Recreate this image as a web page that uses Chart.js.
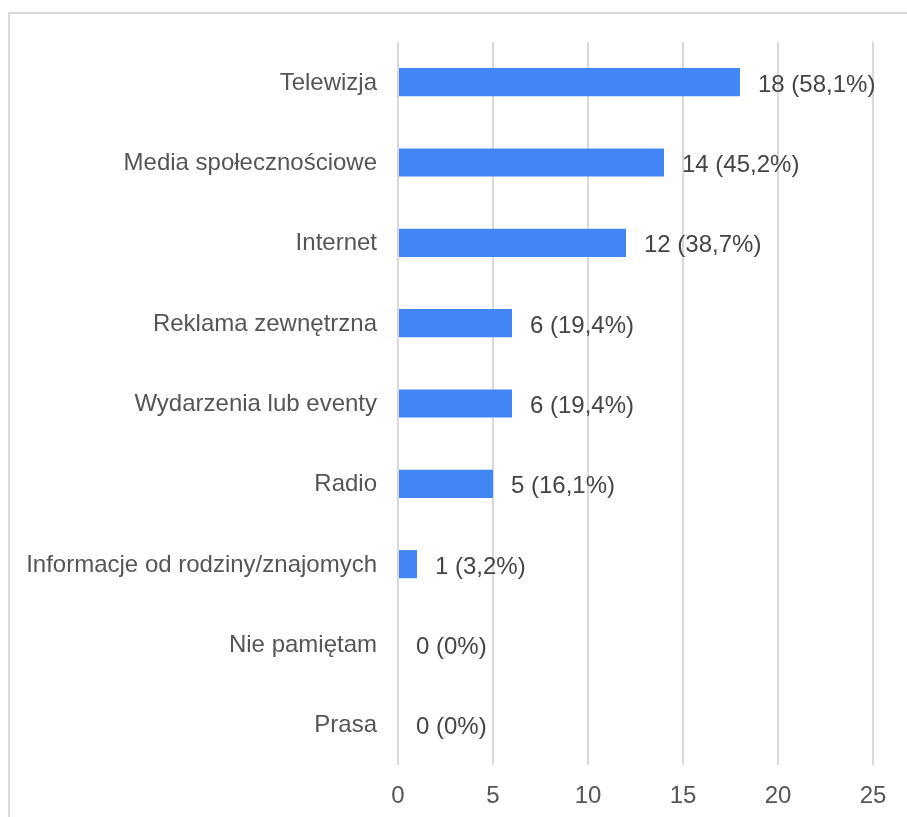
<!DOCTYPE html>
<html>
<head>
<meta charset="utf-8">
<script src="https://cdn.jsdelivr.net/npm/chart.js@4.4.1/dist/chart.umd.min.js"></script>
<style>
  html, body { margin: 0; padding: 0; background: #fff; overflow: hidden; }
  #frame {
    position: absolute; left: 8px; top: 12px; width: 1000px; height: 1000px;
    border-left: 2px solid #d9d9d9; border-top: 2px solid #d9d9d9;
  }
  #wrap { position: absolute; left: 0; top: 0; width: 907px; height: 817px; }
</style>
</head>
<body>
<div id="frame"></div>
<div id="wrap"><canvas id="chart"></canvas></div>
<script>
// ------------------ Data ------------------
const categories = [
    "Telewizja",
    "Media społecznościowe",
    "Internet",
    "Reklama zewnętrzna",
    "Wydarzenia lub eventy",
    "Radio",
    "Informacje od rodziny/znajomych",
    "Nie pamiętam",
    "Prasa"
];
const counts = [18, 14, 12, 6, 6, 5, 1, 0, 0];
const percents = [58.1, 45.2, 38.7, 19.4, 19.4, 16.1, 3.2, 0, 0];
const xTicks = [0, 5, 10, 15, 20, 25];

const textColor = "#555555";
const fontFamily = "'Liberation Sans', Arial, sans-serif";

// ------------------ Value labels next to bars ------------------
const valueLabels = {
    id: "valueLabels",
    afterDatasetsDraw(chart) {
        const ctx = chart.ctx;
        const meta = chart.getDatasetMeta(0);
        ctx.save();
        ctx.font = "24px " + fontFamily;
        ctx.fillStyle = "#444444";
        ctx.textAlign = "left";
        ctx.textBaseline = "middle";
        meta.data.forEach((bar, i) => {
            const pct = String(percents[i]).replace(".", ",");
            const text = counts[i] + " (" + pct + "%)";
            ctx.fillText(text, bar.x + 18, bar.y + 3);
        });
        ctx.restore();
    }
};

// ------------------ Chart ------------------
const ctx = document.getElementById("chart").getContext("2d");
const myChart = new Chart(ctx, {
    type: "bar",
    data: {
        labels: categories,
        datasets: [{
            data: counts,
            backgroundColor: "#4285f4",
            borderWidth: 0,
            categoryPercentage: 1,
            barPercentage: 0.35,
        }],
    },
    options: {
        indexAxis: "y",
        responsive: true,
        maintainAspectRatio: false,
        animation: false,
        layout: { padding: { top: 42, right: 34, left: 0, bottom: 0 } },
        plugins: {
            legend: { display: false },
            tooltip: { enabled: false },
        },
        scales: {
            x: {
                min: 0,
                max: 25,
                afterBuildTicks(axis) {
                    axis.ticks = xTicks.map((v) => ({ value: v }));
                },
                afterFit(axis) { axis.height = 52; },
                grid: { color: "#d9d9d9", lineWidth: 2, drawTicks: false },
                border: { display: false },
                ticks: {
                    color: textColor,
                    padding: 17,
                    font: { size: 24, family: fontFamily },
                },
            },
            y: {
                afterFit(axis) { axis.width = 398; },
                grid: { display: false, drawTicks: false },
                border: { display: false },
                ticks: {
                    color: textColor,
                    padding: 21,
                    labelOffset: 1,
                    font: { size: 24, family: fontFamily },
                },
            },
        },
    },
    plugins: [valueLabels],
});
</script>
</body>
</html>
